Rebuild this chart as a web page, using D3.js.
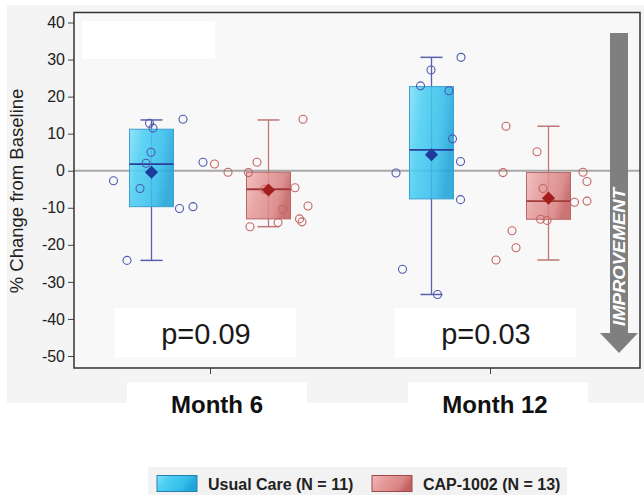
<!DOCTYPE html>
<html><head><meta charset="utf-8">
<script src="https://cdn.jsdelivr.net/npm/d3@7"></script>
<style>html,body{margin:0;padding:0;background:#fff;}svg{display:block;font-family:Arial,"Liberation Sans",sans-serif;}</style>
</head><body>
<svg id="c" width="644" height="495"></svg>
<script>
// ---- data ----
const groups = ["Month 6", "Month 12"];
const arms = ["Usual Care", "CAP-1002"];
const armLabels = ["Usual Care (N = 11)", "CAP-1002 (N = 13)"];
const yTicks = [40, 30, 20, 10, 0, -10, -20, -30, -40, -50];
const pValues = ["p=0.09", "p=0.03"];

const usualLow = [-24.2, -33.4];
const usualQ1 = [-9.7, -7.6];
const usualMedian = [1.8, 5.6];
const usualQ3 = [11.2, 22.7];
const usualHigh = [13.7, 30.6];
const usualMean = [-0.4, 4.3];

const capLow = [-15.1, -24.1];
const capQ1 = [-13.0, -13.1];
const capMedian = [-5.0, -8.2];
const capQ3 = [-0.4, -0.5];
const capHigh = [13.7, 12.0];
const capMean = [-5.2, -7.4];

const usualM6 = [12.8, 11.5, 13.9, 5.0, 2.0, -2.7, -4.8, -10.2, -9.7, 2.3, -24.2];
const usualM6Jitter = [-0.04, 0.03, 0.63, -0.01, -0.11, -0.76, -0.23, 0.56, 0.83, 1.03, -0.49];
const capM6 = [13.9, 1.8, -0.4, 2.3, -0.5, -5.0, -4.6, -9.5, -10.4, -13.0, -13.8, -14.0, -15.1];
const capM6Jitter = [0.69, -1.08, -0.81, -0.23, -0.40, -0.07, 0.53, 0.79, 0.29, 0.62, 0.67, 0.19, -0.37];
const usualM12 = [30.6, 27.2, 22.9, 21.6, 8.6, 2.5, -0.6, -7.8, -26.6, -33.4];
const usualM12Jitter = [0.59, -0.01, -0.22, 0.35, 0.42, 0.58, -0.71, 0.58, -0.58, 0.12];
const capM12 = [12.0, 5.1, -0.5, -0.4, -2.9, -4.8, -8.5, -8.2, -13.1, -13.4, -16.2, -20.8, -24.1];
const capM12Jitter = [-0.85, -0.23, -0.91, 0.69, 0.77, -0.11, 0.52, 0.77, -0.16, -0.03, -0.73, -0.65, -1.05];

// ---- build tables ----
const stats = [
  {arm: arms[0], low: usualLow, q1: usualQ1, med: usualMedian, q3: usualQ3, high: usualHigh, mean: usualMean},
  {arm: arms[1], low: capLow, q1: capQ1, med: capMedian, q3: capQ3, high: capHigh, mean: capMean}
];
const boxes = [];
stats.forEach(s => groups.forEach((g, i) => boxes.push({
  group: g, arm: s.arm, low: s.low[i], q1: s.q1[i], med: s.med[i], q3: s.q3[i], high: s.high[i], mean: s.mean[i]
})));
const pointSets = [
  {group: groups[0], arm: arms[0], v: usualM6, j: usualM6Jitter},
  {group: groups[0], arm: arms[1], v: capM6, j: capM6Jitter},
  {group: groups[1], arm: arms[0], v: usualM12, j: usualM12Jitter},
  {group: groups[1], arm: arms[1], v: capM12, j: capM12Jitter}
];
const points = [];
pointSets.forEach(s => s.v.forEach((v, k) => points.push({group: s.group, arm: s.arm, value: v, jit: s.j[k]})));

// ---- layout ----
const plot = {left: 74, right: 640, top: 12.5, bottom: 368};
const svg = d3.select("#c");

const y = d3.scaleLinear().domain([-50, 40]).range([356, 22.5]);
const x = d3.scalePoint().domain(groups).range([210, 490]);
const armX = d3.scalePoint().domain(arms).range([-58.5, 58.5]);
const jitterX = d3.scaleLinear().domain([-1, 1]).range([-50, 50]);
const boxW = 44, capW = 22;

const color = {
  "Usual Care": {stroke: "#3a9fd2", med: "#2c3d9c", whisk: "#5a5fae", mean: "#1d3a9c", pt: "#4d58b0", grad: "gBlue"},
  "CAP-1002": {stroke: "#b86666", med: "#a43a3a", whisk: "#c07676", mean: "#a31d1d", pt: "#c46464", grad: "gRed"}
};

// gradients
const defs = svg.append("defs");
function grad(id, stops) {
  const g = defs.append("linearGradient").attr("id", id).attr("x1", "0").attr("x2", "1").attr("y1", "0").attr("y2", "0.3");
  stops.forEach(s => g.append("stop").attr("offset", s[0]).attr("stop-color", s[1]));
}
grad("gBlue", [[0, "#86e0f8"], [0.3, "#4ccff3"], [0.75, "#35bdea"], [1, "#1ea4d8"]]);
grad("gRed", [[0, "#f3baba"], [0.35, "#e69c9c"], [0.8, "#da8484"], [1, "#c46262"]]);

// backgrounds
svg.append("rect").attr("x", 7).attr("y", 5).attr("width", 637).attr("height", 398).attr("fill", "#f4f4f4");
svg.append("rect").attr("x", plot.left).attr("y", plot.top).attr("width", plot.right - plot.left)
  .attr("height", plot.bottom - plot.top).attr("fill", "#f8f8f8");

// white boxes
svg.append("rect").attr("x", 82).attr("y", 21).attr("width", 133).attr("height", 38).attr("fill", "#fff");
groups.forEach((g, i) => {
  svg.append("rect").attr("x", x(g) - 95).attr("y", 308).attr("width", 181).attr("height", 49).attr("fill", "#fff");
  svg.append("text").attr("x", x(g) - 4).attr("y", 344).attr("text-anchor", "middle")
    .attr("font-size", 29).attr("fill", "#1a1a1a").text(pValues[i]);
  svg.append("rect").attr("x", x(g) - 83 + (i ? 1 : 0)).attr("y", 382.5).attr("width", 180).attr("height", 22).attr("fill", "#fff");
  svg.append("text").attr("x", x(g) + 7 + (i ? -2 : 0)).attr("y", 413).attr("text-anchor", "middle")
    .attr("font-size", 24).attr("font-weight", "bold").attr("fill", "#111").text(g);
});

// zero line
svg.append("line").attr("x1", plot.left).attr("x2", plot.right).attr("y1", y(0)).attr("y2", y(0))
  .attr("stroke", "#a8a8a8").attr("stroke-width", 2);

// y axis
const yAxis = svg.append("g").attr("transform", `translate(${plot.left},0)`)
  .call(d3.axisLeft(y).tickValues(yTicks).tickFormat(d => String(d)).tickSize(6).tickPadding(3).tickSizeOuter(0));
yAxis.select(".domain").remove();
yAxis.selectAll("text").attr("font-size", 16).attr("fill", "#222").attr("font-family", "Arial, 'Liberation Sans', sans-serif");
yAxis.selectAll("line").attr("stroke", "#444");

// x axis ticks
const xAxis = svg.append("g").attr("transform", `translate(0,${plot.bottom})`)
  .call(d3.axisBottom(x).tickSize(6).tickFormat(""));
xAxis.select(".domain").remove();
xAxis.selectAll("line").attr("stroke", "#444");

// y title
svg.append("text").attr("transform", `translate(23,191) rotate(-90)`).attr("text-anchor", "middle")
  .attr("font-size", 18.5).attr("fill", "#222").text("% Change from Baseline");

// boxes
const bg = svg.append("g");
boxes.forEach(b => {
  const cx = x(b.group) + armX(b.arm);
  const c = color[b.arm];
  bg.append("line").attr("x1", cx).attr("x2", cx).attr("y1", y(b.high)).attr("y2", y(b.low))
    .attr("stroke", c.whisk).attr("stroke-width", 1.3);
  [b.high, b.low].forEach(v => bg.append("line").attr("x1", cx - capW / 2).attr("x2", cx + capW / 2)
    .attr("y1", y(v)).attr("y2", y(v)).attr("stroke", c.whisk).attr("stroke-width", 1.5));
  bg.append("rect").attr("x", cx - boxW / 2).attr("y", y(b.q3)).attr("width", boxW).attr("height", y(b.q1) - y(b.q3))
    .attr("fill", `url(#${c.grad})`).attr("fill-opacity", 0.88).attr("stroke", c.stroke).attr("stroke-width", 1);
  bg.append("line").attr("x1", cx - boxW / 2).attr("x2", cx + boxW / 2).attr("y1", y(b.med)).attr("y2", y(b.med))
    .attr("stroke", c.med).attr("stroke-width", 1.8);
});

// points
svg.append("g").selectAll("circle").data(points).join("circle")
  .attr("cx", d => x(d.group) + armX(d.arm) + jitterX(d.jit))
  .attr("cy", d => y(d.value)).attr("r", 4)
  .attr("fill", "none").attr("stroke", d => color[d.arm].pt).attr("stroke-width", 1.1);

// means
boxes.forEach(b => {
  const cx = x(b.group) + armX(b.arm);
  svg.append("path").attr("d", d3.symbol(d3.symbolDiamond2, 110)())
    .attr("transform", `translate(${cx},${y(b.mean)})`).attr("fill", color[b.arm].mean);
});

// frame
svg.append("rect").attr("x", plot.left).attr("y", plot.top).attr("width", plot.right - plot.left)
  .attr("height", plot.bottom - plot.top).attr("fill", "none").attr("stroke", "#333").attr("stroke-width", 1.5);

// improvement arrow
svg.append("path").attr("d", "M610,33 L628,33 L628,333 L638,333 L619,353 L600,333 L610,333 Z").attr("fill", "#7f7f7f");
svg.append("text").attr("transform", "translate(625,257) rotate(-90)").attr("text-anchor", "middle")
  .attr("font-size", 17).attr("font-weight", "bold").attr("font-style", "italic").attr("fill", "#fff")
  .attr("textLength", 138).attr("lengthAdjust", "spacingAndGlyphs").text("IMPROVEMENT");

// legend
svg.append("rect").attr("x", 148).attr("y", 467).attr("width", 419).attr("height", 28).attr("fill", "#f2f2f2");
const legX = [157, 372];
arms.forEach((a, i) => {
  svg.append("rect").attr("x", legX[i]).attr("y", 475.5).attr("width", 40).attr("height", 16)
    .attr("fill", `url(#${color[a].grad})`).attr("stroke", i ? "#9a4a4a" : "#2a7fb0").attr("stroke-width", 1);
  svg.append("text").attr("x", legX[i] + 51).attr("y", 490).attr("font-size", 16).attr("font-weight", "bold")
    .attr("fill", "#222").text(armLabels[i]);
});
</script>
</body></html>
